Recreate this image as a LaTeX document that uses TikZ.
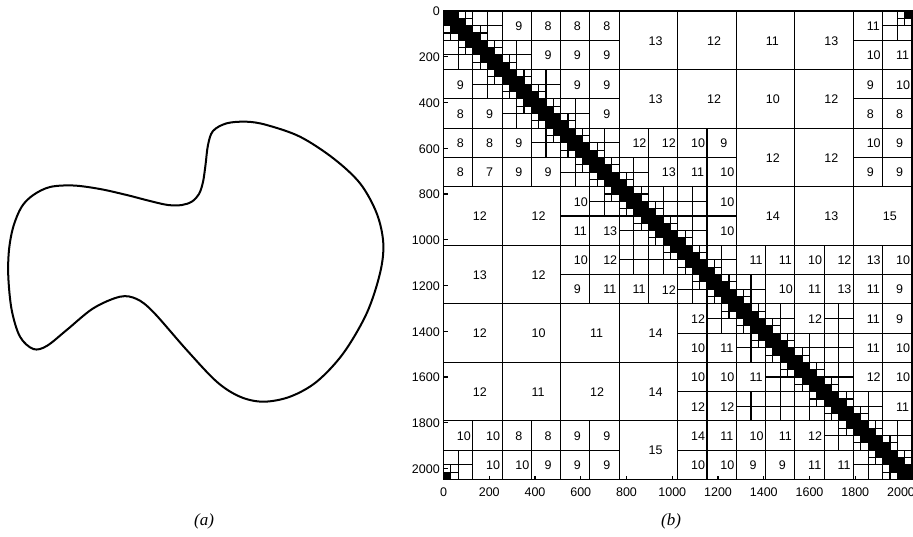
\documentclass[tikz,border=0pt]{standalone}
\usepackage{fontspec}
\setmainfont{Liberation Sans}
\newfontfamily\capfont{Liberation Serif}
\begin{document}
\def\mx{443.5}\def\my{11}\def\cu{7.32031}
\tikzset{
  blk/.style={draw=black,line width=1.1pt},
  dense/.style={fill=black,draw=black,line width=1.1pt},
  lab/.style={anchor=west,inner sep=0pt,font=\fontsize{12.5}{12.5}\selectfont},
  tick/.style={font=\fontsize{12.5}{12.5}\selectfont,inner sep=0pt},
  curve/.style={line width=2pt,line join=round}
}
% 32-unit cells
\newcommand\W[2]{\draw[blk] ({\mx+(#2)*\cu},{\my+(#1)*\cu}) rectangle ({\mx+(#2+1)*\cu},{\my+(#1+1)*\cu});}
\newcommand\Wb[2]{\draw[blk] ({\mx+(#2)*\cu},{\my+(#1)*\cu}) rectangle ({\mx+(#2+2)*\cu},{\my+(#1+2)*\cu});}
\newcommand\K[2]{\filldraw[dense] ({\mx+(#2)*\cu},{\my+(#1)*\cu}) rectangle ({\mx+(#2+1)*\cu},{\my+(#1+1)*\cu});}
\newcommand\Kb[2]{\filldraw[dense] ({\mx+(#2)*\cu},{\my+(#1)*\cu}) rectangle ({\mx+(#2+2)*\cu},{\my+(#1+2)*\cu});}
% templates (32-units)
\newcommand\DiagAt[1]{\Kb{#1}{#1}\Kb{#1+2}{#1+2}\K{#1+1}{#1+2}\K{#1+2}{#1+1}%
  \W{#1}{#1+2}\W{#1}{#1+3}\W{#1+1}{#1+3}\W{#1+2}{#1}\W{#1+3}{#1}\W{#1+3}{#1+1}}
\newcommand\UpAt[2]{\Wb{#1}{#2}\Wb{#1}{#2+2}\Wb{#1+2}{#2+2}\K{#1+3}{#2}\W{#1+2}{#2}\W{#1+2}{#2+1}\W{#1+3}{#2+1}}
\newcommand\LoAt[2]{\Wb{#1}{#2}\Wb{#1+2}{#2}\Wb{#1+2}{#2+2}\K{#1}{#2+3}\W{#1}{#2+2}\W{#1+1}{#2+2}\W{#1+1}{#2+3}}
% 128-unit blocks
\newcommand\Bx[6]{\draw[blk] ({\mx+(#2)*4*\cu},{\my+(#1)*4*\cu}) rectangle ({\mx+(#4)*4*\cu},{\my+(#3)*4*\cu});
  \node[lab] at ({\mx+((#2)+(#4))*2*\cu+#6},{\my+((#1)+(#3))*2*\cu+0.5}) {#5};}
\newcommand\Bs[3]{\Bx{#1}{#2}{#1+1}{#2+1}{#3}{-1.5}}
\newcommand\Bt[3]{\Bx{#1}{#2}{#1+2}{#2+2}{#3}{0}}
\newcommand\Sp[2]{\Wb{4*(#1)}{4*(#2)}\Wb{4*(#1)}{4*(#2)+2}\Wb{4*(#1)+2}{4*(#2)}\Wb{4*(#1)+2}{4*(#2)+2}}
\begin{tikzpicture}[x=1pt,y=-1pt]
\useasboundingbox (0,0) rectangle (913,536);
% ---- (a) curve
\draw[curve] plot[smooth cycle,tension=0.55] coordinates {
(300,136.7) (266.7,125) (246.7,121.7) (226.7,123.3) (213,131) (208,145) (205.5,165) (203,182) (199,194) (192,201.5) (182,205) (168,205) (150,201) (126.7,195) (100,189) (73.3,185.5) (50,187) (33.3,195) (21.7,206.7) (13.3,226.7) (9,250) (8.3,276.7) (11.7,310) (20,336.7) (33.3,349) (46.7,346) (66.7,330) (93.3,308.3) (120,296.7) (136.7,299) (153.3,312) (186.7,350) (216.7,381.7) (240,396.7) (263.3,401.7) (290,396.7) (316.7,381.7) (343.3,353.3) (366.7,313.3) (380,273.3) (383.3,243.3) (376.7,213.3) (360,183.3) (333.3,158.3)};
\node[font=\capfont\itshape\fontsize{17}{17}\selectfont] (capa) at (204,521) {(a)};
\node[font=\capfont\itshape\fontsize{17}{17}\selectfont] (capb) at (671,521) {(b)};
% ---- (b) 256 blocks
\Bt{0}{6}{13}\Bt{0}{8}{12}\Bt{0}{10}{11}\Bt{0}{12}{13}
\Bt{2}{6}{13}\Bt{2}{8}{12}\Bt{2}{10}{10}\Bt{2}{12}{12}
\Bt{4}{10}{12}\Bt{4}{12}{12}
\Bt{6}{10}{14}\Bt{6}{12}{13}\Bt{6}{14}{15}
\Bt{6}{0}{12}\Bt{6}{2}{12}
\Bt{8}{0}{13}\Bt{8}{2}{12}
\Bt{10}{0}{12}\Bt{10}{2}{10}\Bt{10}{4}{11}\Bt{10}{6}{14}
\Bt{12}{0}{12}\Bt{12}{2}{11}\Bt{12}{4}{12}\Bt{12}{6}{14}
\Bt{14}{6}{15}
% ---- 128 blocks
\Bs{0}{2}{9}\Bs{0}{3}{8}\Bs{0}{4}{8}\Bs{0}{5}{8}\Bs{0}{14}{11}
\Bs{1}{3}{9}\Bs{1}{4}{9}\Bs{1}{5}{9}\Bs{1}{14}{10}\Bs{1}{15}{11}
\Bs{2}{0}{9}\Bs{2}{4}{9}\Bs{2}{5}{9}\Bs{2}{14}{9}\Bs{2}{15}{10}
\Bs{3}{0}{8}\Bs{3}{1}{9}\Bs{3}{5}{9}\Bs{3}{14}{8}\Bs{3}{15}{8}
\Bs{4}{0}{8}\Bs{4}{1}{8}\Bs{4}{2}{9}\Bs{4}{6}{12}\Bs{4}{7}{12}\Bs{4}{8}{10}\Bs{4}{9}{9}\Bs{4}{14}{10}\Bs{4}{15}{9}
\Bs{5}{0}{8}\Bs{5}{1}{7}\Bs{5}{2}{9}\Bs{5}{3}{9}\Bs{5}{7}{13}\Bs{5}{8}{11}\Bs{5}{9}{10}\Bs{5}{14}{9}\Bs{5}{15}{9}
\Bs{6}{4}{10}\Bs{6}{9}{10}
\Bs{7}{4}{11}\Bs{7}{5}{13}\Bs{7}{9}{10}
\Bs{8}{4}{10}\Bs{8}{5}{12}\Bs{8}{10}{11}\Bs{8}{11}{11}\Bs{8}{12}{10}\Bs{8}{13}{12}\Bs{8}{14}{13}\Bs{8}{15}{10}
\Bs{9}{4}{9}\Bs{9}{5}{11}\Bs{9}{6}{11}\Bs{9}{7}{12}\Bs{9}{11}{10}\Bs{9}{12}{11}\Bs{9}{13}{13}\Bs{9}{14}{11}\Bs{9}{15}{9}
\Bs{10}{8}{12}\Bs{10}{12}{12}\Bs{10}{14}{11}\Bs{10}{15}{9}
\Bs{11}{8}{10}\Bs{11}{9}{11}\Bs{11}{14}{11}\Bs{11}{15}{10}
\Bs{12}{8}{10}\Bs{12}{9}{10}\Bs{12}{10}{11}\Bs{12}{14}{12}\Bs{12}{15}{10}
\Bs{13}{8}{12}\Bs{13}{9}{12}\Bs{13}{15}{11}
\Bs{14}{0}{10}\Bs{14}{1}{10}\Bs{14}{2}{8}\Bs{14}{3}{8}\Bs{14}{4}{9}\Bs{14}{5}{9}\Bs{14}{8}{14}\Bs{14}{9}{11}\Bs{14}{10}{10}\Bs{14}{11}{11}\Bs{14}{12}{12}
\Bs{15}{1}{10}\Bs{15}{2}{10}\Bs{15}{3}{9}\Bs{15}{4}{9}\Bs{15}{5}{9}\Bs{15}{8}{10}\Bs{15}{9}{10}\Bs{15}{10}{9}\Bs{15}{11}{9}\Bs{15}{12}{11}\Bs{15}{13}{11}
% ---- split 128 blocks
\Sp{6}{8}\Sp{8}{6}\Sp{10}{13}\Sp{13}{10}\Sp{11}{13}\Sp{13}{11}
% ---- near-diagonal structure
\foreach \i in {0,...,15} {\DiagAt{4*\i}}
\foreach \i in {0,...,14} {\UpAt{4*\i}{4*\i+4}\LoAt{4*\i+4}{4*\i}}
\LoAt{0}{60}\UpAt{60}{0}
% ---- frame and axes
\draw[blk] (\mx,\my) rectangle ({\mx+64*\cu},{\my+64*\cu});
\foreach \v in {0,200,...,2000} {
  \draw[blk] (\mx,{\my+\v*0.228760}) -- ({\mx+4},{\my+\v*0.228760});
  \draw[blk] ({\mx+\v*0.228760},{\my+64*\cu}) -- ({\mx+\v*0.228760},{\my+64*\cu-4});
  \node[tick,anchor=east] at (440,{\my+\v*0.228760+0.5}) {\v};
  \node[tick] at ({\mx+\v*0.228760},492) {\v};
}
\end{tikzpicture}
\end{document}
